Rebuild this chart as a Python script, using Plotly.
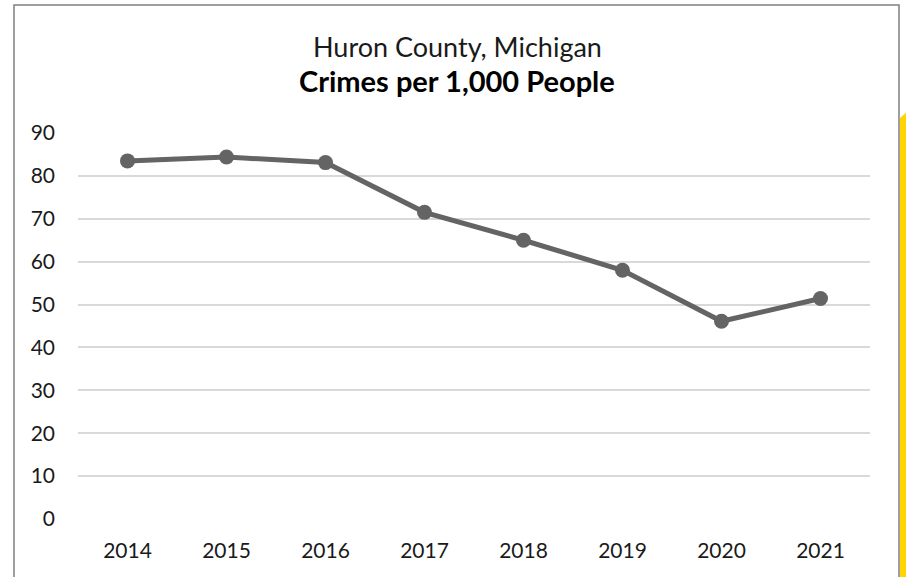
import plotly.graph_objects as go

years = [2014, 2015, 2016, 2017, 2018, 2019, 2020, 2021]
crimes_per_1000 = [83.5, 84.4, 83.1, 71.5, 65.0, 58.0, 46.1, 51.4]
y_ticks = [0, 10, 20, 30, 40, 50, 60, 70, 80, 90]

W, H = 906, 577
L, R, T, B = 78, 36, 133, 58
pw, ph = W - L - R, H - T - B


def px_x(v):
    return (v - L) / pw


def px_y(v):
    return (H - B - v) / ph


fig = go.Figure()
fig.add_trace(go.Scatter(
    x=years, y=crimes_per_1000, mode="lines+markers",
    line=dict(color="#646464", width=5),
    marker=dict(color="#646464", size=15),
    hoverinfo="x+y", showlegend=False,
))

fig.update_layout(
    width=W, height=H,
    margin=dict(l=L, r=R, t=T, b=B),
    paper_bgcolor="white", plot_bgcolor="white",
    font=dict(family="Lato", size=21, color="#1a1a1a"),
    xaxis=dict(range=[2013.5, 2021.5], tickvals=years, ticktext=[str(y) for y in years],
               showgrid=False, zeroline=False, showline=False,
               ticks="", ticklabelstandoff=17, fixedrange=True),
    yaxis=dict(range=[0, 90], tickvals=y_ticks, showgrid=True, gridcolor="#d9d9d9",
               gridwidth=1.5, zeroline=False, showline=False, ticks="",
               ticklabelstandoff=22, fixedrange=True),
    shapes=[
        dict(type="rect", xref="paper", yref="paper",
             x0=px_x(14), x1=px_x(899), y0=px_y(5), y1=px_y(590),
             line=dict(color="#808080", width=1.5), layer="below"),
        dict(type="path", xref="paper", yref="paper",
             path=f"M {px_x(900)} {px_y(118)} L {px_x(907)} {px_y(112)} L {px_x(907)} {px_y(590)} L {px_x(900)} {px_y(590)} Z",
             fillcolor="#FFD400", line=dict(width=0)),
    ],
    annotations=[
        dict(text="Huron County, Michigan", xref="paper", yref="paper",
             x=px_x(457), y=px_y(46), showarrow=False, xanchor="center", yanchor="middle",
             font=dict(family="Lato", size=27, color="#1a1a1a")),
        dict(text="<b>Crimes per 1,000 People</b>", xref="paper", yref="paper",
             x=px_x(457), y=px_y(81), showarrow=False, xanchor="center", yanchor="middle",
             font=dict(family="Lato", size=29, color="#000000")),
    ],
)

fig.write_html("out.html", config={"displayModeBar": False},
               post_script="document.body.style.margin='0';document.body.style.overflow='hidden';")
